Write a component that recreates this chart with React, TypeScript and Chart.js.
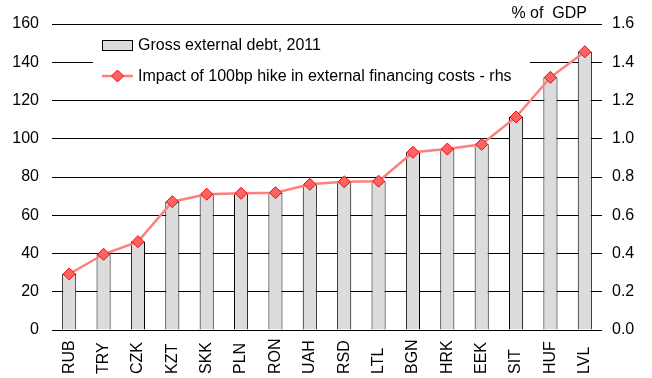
import React, { useEffect, useRef } from "react";
import { Chart, registerables } from "chart.js";

Chart.register(...registerables);

const categories = ["RUB", "TRY", "CZK", "KZT", "SKK", "PLN", "RON", "UAH", "RSD", "LTL", "BGN", "HRK", "EEK", "SIT", "HUF", "LVL"];
const grossDebt = [29.3, 39.6, 46.2, 67.1, 71.0, 71.5, 71.8, 76.2, 77.5, 77.8, 92.9, 94.6, 97.1, 111.4, 132.1, 145.5];
const impact = [0.293, 0.396, 0.462, 0.671, 0.71, 0.715, 0.718, 0.762, 0.775, 0.778, 0.929, 0.946, 0.971, 1.114, 1.321, 1.455];
const barLabel = "Gross external debt, 2011";
const lineLabel = "Impact of 100bp hike in external financing costs - rhs";
const unitLabel = "% of  GDP";

const FONT = "'Liberation Sans', Arial, sans-serif";
const FONT_SIZE = 16;
const BAR_FILL = "#dcdcdc";
const LINE_COLOR = "#ff7f7f";
const MARKER_FILL = "#ff6464";
const MARKER_BORDER = "#ff0000";

const legendPlugin = {
  id: "customLegend",
  beforeDatasetsDraw(chart: any) {
    const ctx = chart.ctx;
    ctx.save();
    ctx.fillStyle = "#ffffff";
    ctx.fillRect(93, 30, 437, 62);
    ctx.font = `${FONT_SIZE}px ${FONT}`;
    ctx.textBaseline = "middle";
    ctx.textAlign = "left";
    // bar swatch
    ctx.fillStyle = BAR_FILL;
    ctx.fillRect(102, 40, 31, 10);
    ctx.strokeStyle = "#000";
    ctx.lineWidth = 1;
    ctx.strokeRect(102.5, 40.5, 30, 10);
    ctx.fillStyle = "#000";
    ctx.fillText(barLabel, 138, 45.5);
    // line swatch
    ctx.strokeStyle = LINE_COLOR;
    ctx.lineWidth = 2.5;
    ctx.beginPath();
    ctx.moveTo(102, 76);
    ctx.lineTo(133, 76);
    ctx.stroke();
    ctx.fillStyle = MARKER_FILL;
    ctx.strokeStyle = MARKER_BORDER;
    ctx.lineWidth = 1;
    ctx.beginPath();
    ctx.moveTo(117.5, 70);
    ctx.lineTo(123.5, 76);
    ctx.lineTo(117.5, 82);
    ctx.lineTo(111.5, 76);
    ctx.closePath();
    ctx.fill();
    ctx.stroke();
    ctx.fillStyle = "#000";
    ctx.fillText(lineLabel, 138, 76.5);
    // unit label
    ctx.textAlign = "right";
    ctx.fillText(unitLabel, 587, 14);
    ctx.restore();
  },
  afterDraw(chart: any) {
    // category labels, rotated, starting at a common baseline
    const ctx = chart.ctx;
    const xs = chart.scales.x;
    ctx.save();
    ctx.font = `${FONT_SIZE}px ${FONT}`;
    ctx.fillStyle = "#000";
    ctx.textAlign = "left";
    ctx.textBaseline = "middle";
    categories.forEach((c, i) => {
      const x = xs.getPixelForValue(i);
      ctx.save();
      ctx.translate(x, 374);
      ctx.rotate(-Math.PI / 2);
      ctx.fillText(c, 0, 0);
      ctx.restore();
    });
    ctx.restore();
  },
};

export default function App() {
  const ref = useRef<HTMLCanvasElement>(null);
  useEffect(() => {
    if (!ref.current) return;
    const chart = new Chart(ref.current, {
      type: "bar",
      data: {
        labels: categories,
        datasets: [
          {
            type: "line" as const,
            label: lineLabel,
            data: impact,
            yAxisID: "y1",
            borderColor: LINE_COLOR,
            borderWidth: 2.5,
            pointStyle: "rectRot",
            pointRadius: 6,
            pointBackgroundColor: MARKER_FILL,
            pointBorderColor: MARKER_BORDER,
            pointBorderWidth: 1,
            tension: 0,
            order: 0,
          },
          {
            type: "bar" as const,
            label: barLabel,
            data: grossDebt,
            yAxisID: "y",
            backgroundColor: BAR_FILL,
            borderColor: "#000",
            borderWidth: 1,
            categoryPercentage: 1,
            barPercentage: 0.41,
            order: 1,
          },
        ],
      },
      options: {
        animation: false,
        responsive: true,
        maintainAspectRatio: false,
        layout: { padding: { top: 24, left: 0, right: 0, bottom: 0 } },
        plugins: { legend: { display: false }, tooltip: { enabled: false } },
        scales: {
          x: {
            grid: { display: false },
            border: { display: false },
            ticks: { display: false },
            afterFit: (s: any) => {
              s.height = 48;
            },
          },
          y: {
            position: "left",
            min: 0,
            max: 160,
            ticks: {
              stepSize: 20,
              color: "#000",
              font: { family: FONT, size: FONT_SIZE },
              padding: 13,
            },
            grid: { color: "#000", lineWidth: 1, drawTicks: false },
            border: { display: false },
            afterFit: (s: any) => {
              s.width = 52;
            },
          },
          y1: {
            position: "right",
            min: 0,
            max: 1.6,
            ticks: {
              stepSize: 0.2,
              color: "#000",
              font: { family: FONT, size: FONT_SIZE },
              padding: 10,
              callback: (v: any) => Number(v).toFixed(1),
            },
            grid: { drawOnChartArea: false, drawTicks: false },
            border: { display: false },
            afterFit: (s: any) => {
              s.width = 50;
            },
          },
        },
      },
      plugins: [legendPlugin],
    });
    return () => chart.destroy();
  }, []);
  return (
    <div style={{ position: "fixed", left: 0, top: 0, width: 652, height: 378, background: "#fff" }}>
      <canvas ref={ref} />
    </div>
  );
}
